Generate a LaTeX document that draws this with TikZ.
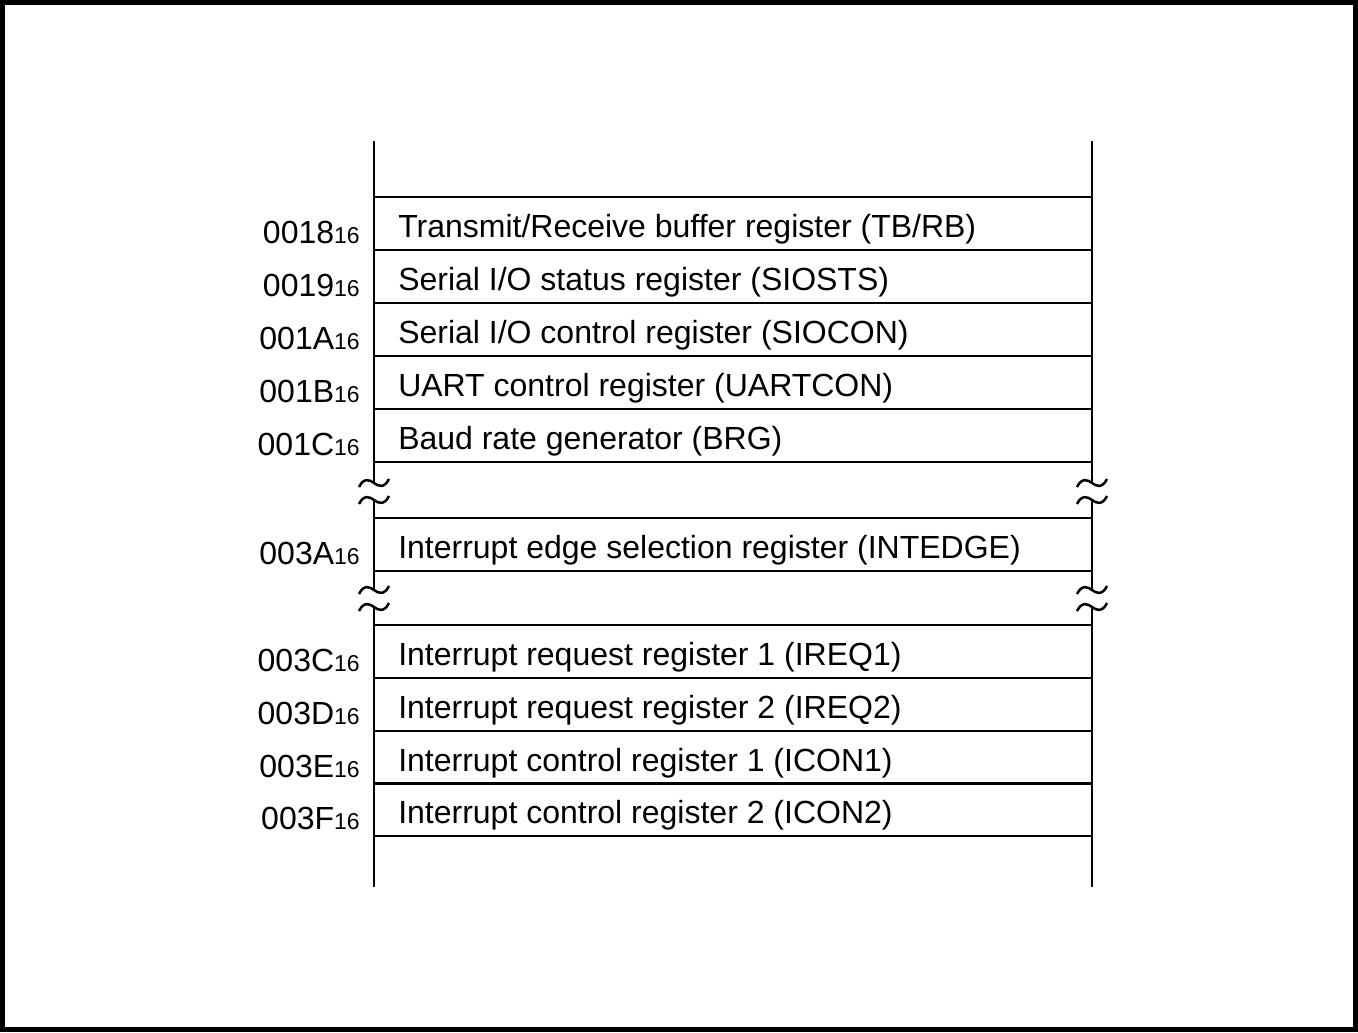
\documentclass[tikz,border=0pt]{standalone}
\usepackage{fontspec}
\setmainfont{Liberation Sans}
\usetikzlibrary{positioning}

\begin{document}
\begin{tikzpicture}[x=0.5pt,y=-0.5pt,line width=1.25pt,
    regname/.style={anchor=base west,inner sep=0pt,font=\fontsize{16}{19}\selectfont},
    regaddr/.style={anchor=base east,inner sep=0pt,font=\fontsize{16}{19}\selectfont}]
  \useasboundingbox (0,0) rectangle (1358,1032);
  \draw[line width=2.5pt] (2.5,2.5) rectangle (1355.5,1029.5);
  \def\xl{374}
  \def\xr{1092}
  \def\rowh{53}
  % registers: top edge / address / name
  \foreach \t/\adr/\name [count=\i] in {
      197/0018/{Transmit/Receive buffer register (TB/RB)},
      250/0019/{Serial I/O status register (SIOSTS)},
      303/001A/{Serial I/O control register (SIOCON)},
      356/001B/{UART control register (UARTCON)},
      409/001C/{Baud rate generator (BRG)},
      518/003A/{Interrupt edge selection register (INTEDGE)},
      625/003C/{Interrupt request register 1 (IREQ1)},
      678/003D/{Interrupt request register 2 (IREQ2)},
      731/003E/{Interrupt control register 1 (ICON1)},
      783/003F/{Interrupt control register 2 (ICON2)}}
  {
    \draw (\xl,\t) -- (\xr,\t);
    \draw (\xl,\t+\rowh) -- (\xr,\t+\rowh);
    \node[regname] (reg\i) at (397,\t+40) {\name};
    \node[regaddr] (adr\i) at (361,\t+46) {\adr{\fontsize{11.5}{13}\selectfont 16}};
  }
  % side lines, broken twice
  \foreach \x in {\xl,\xr} {
    \draw (\x,141) -- (\x,483);
    \draw (\x,500) -- (\x,590);
    \draw (\x,607) -- (\x,887);
    \foreach \y in {483,500,590,607}
      \draw (\x-15,\y+4) .. controls (\x-10,\y-6) and (\x-4,\y-3) .. (\x,\y)
        .. controls (\x+4,\y+3) and (\x+10,\y+6) .. (\x+15,\y-4);
  }
\end{tikzpicture}
\end{document}
